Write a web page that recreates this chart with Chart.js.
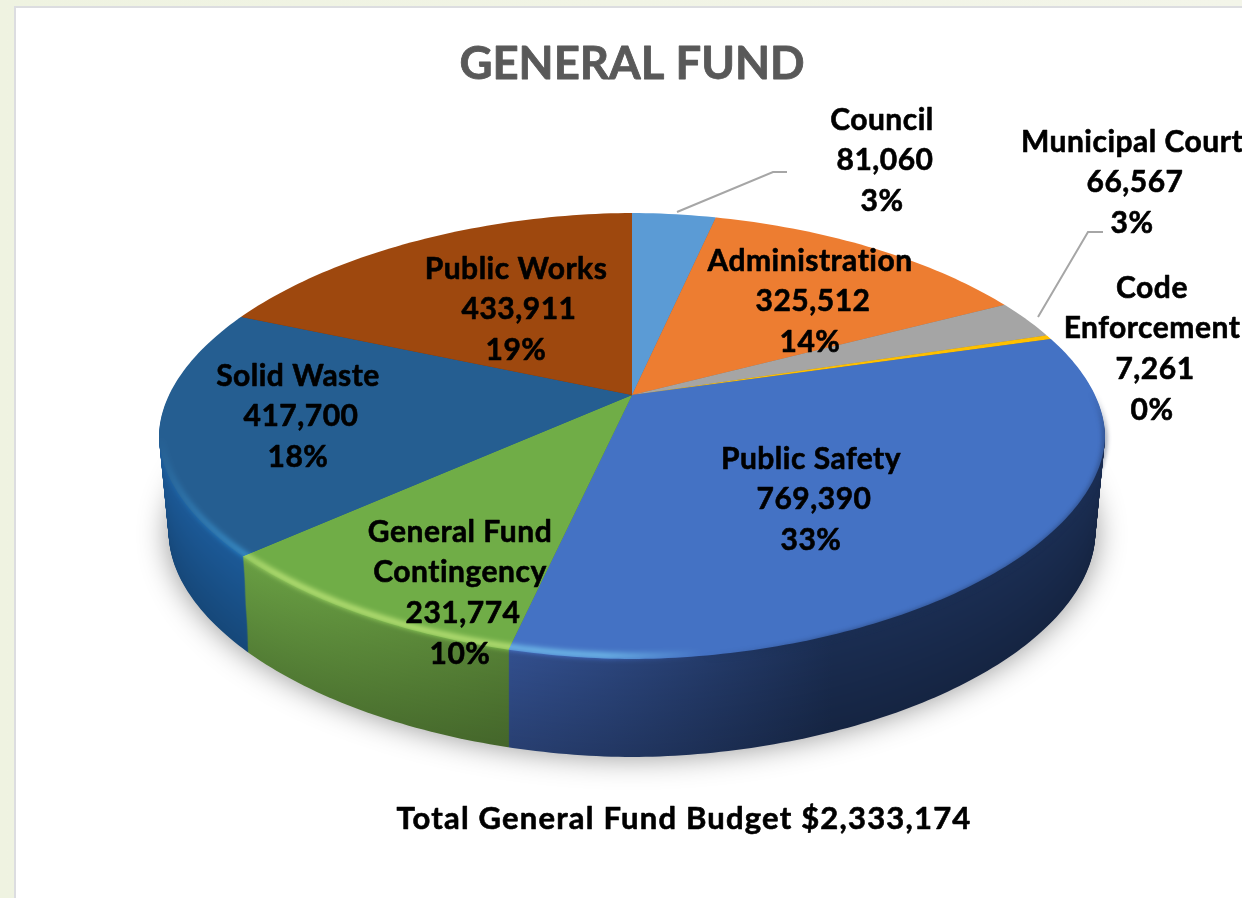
<!DOCTYPE html>
<html><head><meta charset="utf-8">
<style>
html,body{margin:0;padding:0;width:1242px;height:898px;overflow:hidden;background:linear-gradient(90deg,#eff3e1,#f3f5e9)}
#panel{position:absolute;left:14px;top:6px;width:1240px;height:900px;background:#fff;border:2px solid #dcdde0;box-sizing:border-box}
canvas{position:absolute;left:0;top:0}
</style>
<script src="https://cdn.jsdelivr.net/npm/chart.js@4"></script>
</head><body><div id="panel"></div><canvas id="c" width="1242" height="898"></canvas>
<script>
const categories = ['Council','Administration','Municipal Court','Code Enforcement','Public Safety','General Fund Contingency','Solid Waste','Public Works'];
const budget = [81060,325512,66567,7261,769390,231774,417700,433911];
const percents = ['3%','14%','3%','0%','33%','10%','18%','19%'];
const topColors = ['#5B9BD5','#ED7D31','#A5A5A5','#FFC000','#4472C4','#70AD47','#255E91','#9E480E'];
const wallLeft = ['#3f76a8','#b85f22','#7f7f7f','#c09000','#33508f','#6aa044','#1c5a98','#7a380b'];
const wallRight = ['#3f76a8','#b85f22','#7f7f7f','#c09000','#1b2e53','#557f35','#1b5a90','#7a380b'];
const labelLines = [['Council'],['Administration'],['Municipal Court'],['Code','Enforcement'],['Public Safety'],['General Fund','Contingency'],['Solid Waste'],['Public Works']];
const labelX = [882,810,1132,1152,811,460,298,516];
const labelY = [119,260,141,287,458,531,375,268];
const leaders = [[[677,212],[773,172],[787,172]],[[1038,317],[1088,232],[1103,232]]];
const titleText = 'GENERAL FUND';
const footerText = 'Total General Fund Budget $2,333,174';

const APEX = {x:632,y:395}, ELL = {x:632,y:436,rx:473,ry:223,n:1.9}, SQUASH = 0.47, DEPTH = 98, TAPER = 0.1;
const FONT = 'Lato, "Open Sans", sans-serif';

function ellipsePath(ctx,dy,inset){
  const rx=ELL.rx-dy*TAPER-(inset||0), ry=ELL.ry-(inset||0), e=2/ELL.n;
  ctx.beginPath();
  for(let d=0;d<360;d+=1){
    const t=d*Math.PI/180, c=Math.cos(t), s=Math.sin(t);
    const x=ELL.x+rx*Math.sign(c)*Math.pow(Math.abs(c),e), y=ELL.y+dy+ry*Math.sign(s)*Math.pow(Math.abs(s),e);
    d?ctx.lineTo(x,y):ctx.moveTo(x,y);
  }
  ctx.closePath();
}
function shade(hex,f){const n=parseInt(hex.slice(1),16);return `rgb(${(n>>16&255)*f|0},${(n>>8&255)*f|0},${(n&255)*f|0})`;}
function fmt(v){return v.toLocaleString('en-US');}

const pie3d = {
  id:'pie3d',
  beforeDatasetsDraw(chart){
    const ctx = chart.ctx, arcs = chart.getDatasetMeta(0).data;
    ctx.save();
    ctx.shadowColor='rgba(0,0,0,0.42)';ctx.shadowBlur=30;ctx.shadowOffsetY=6;ctx.fillStyle='#ddd';
    ellipsePath(ctx,DEPTH-6);ctx.fill();
    ctx.restore();
    for(let dy=DEPTH;dy>=1;dy--){
      ctx.save();
      ellipsePath(ctx,dy);ctx.clip();
      ctx.translate(APEX.x,APEX.y+dy);ctx.scale(1,SQUASH);
      const f = 1-0.2*dy/DEPTH;
      arcs.forEach((a,i)=>{
        const p=a.getProps(['startAngle','endAngle','outerRadius'],true);
        let g;
        if(i===4){g=ctx.createLinearGradient(-122,0,200,0);}
        else if(i===5||i===6){g=ctx.createLinearGradient(-392,0,-122,0);}
        if(g){g.addColorStop(0,shade(wallLeft[i],f));g.addColorStop(1,shade(wallRight[i],f));ctx.fillStyle=g;}
        else ctx.fillStyle=shade(wallLeft[i],f);
        ctx.beginPath();ctx.moveTo(0,0);ctx.arc(0,0,p.outerRadius,p.startAngle,p.endAngle);ctx.closePath();ctx.fill();
      });
      ctx.restore();
    }
    ctx.save();
    ellipsePath(ctx,0);ctx.clip();
    ctx.save();
    ctx.translate(APEX.x,APEX.y);ctx.scale(1,SQUASH);
    arcs.forEach(a=>{ctx.save();ctx.translate(-a.x,-a.y);a.draw(ctx);ctx.restore();});
    ctx.restore();
    ctx.restore();
    // rim: saturated highlight at the front-left, soft dark edge at the front-right
    ctx.save();
    ctx.filter='blur(2.5px)';
    ctx.globalCompositeOperation='overlay';
    let g=ctx.createConicGradient(0,ELL.x,ELL.y);
    g.addColorStop(0,'rgba(255,255,255,0)');g.addColorStop(0.2,'rgba(255,255,255,0)');
    g.addColorStop(0.27,'rgba(255,255,255,0.62)');g.addColorStop(0.44,'rgba(255,255,255,0.62)');
    g.addColorStop(0.5,'rgba(255,255,255,0)');g.addColorStop(1,'rgba(255,255,255,0)');
    ctx.strokeStyle=g;ctx.lineWidth=6;
    ellipsePath(ctx,0,3);ctx.stroke();
    ctx.globalCompositeOperation='source-over';
    g=ctx.createConicGradient(0,ELL.x,ELL.y);
    g.addColorStop(0,'rgba(27,46,83,0.75)');g.addColorStop(0.12,'rgba(27,46,83,0.85)');
    g.addColorStop(0.2,'rgba(27,46,83,0)');g.addColorStop(0.985,'rgba(27,46,83,0)');g.addColorStop(1,'rgba(27,46,83,0.75)');
    ctx.strokeStyle=g;ctx.lineWidth=3;
    ellipsePath(ctx,2);ctx.stroke();
    ctx.restore();
    return false;
  },
  afterDraw(chart){
    const ctx = chart.ctx;
    ctx.save();
    ctx.strokeStyle='#a6a6a6';ctx.lineWidth=2;
    leaders.forEach(l=>{ctx.beginPath();l.forEach((pt,i)=>i?ctx.lineTo(pt[0],pt[1]):ctx.moveTo(pt[0],pt[1]));ctx.stroke();});
    ctx.textAlign='center';ctx.textBaseline='middle';ctx.lineJoin='round';
    const put=(t,x,y,w)=>{ctx.strokeStyle=ctx.fillStyle;ctx.lineWidth=w;ctx.strokeText(t,x,y);ctx.fillText(t,x,y);};
    ctx.fillStyle='#595959';ctx.font='700 45.5px '+FONT;
    put(titleText,632,64,0.8);
    ctx.fillStyle='#000';ctx.font='700 30px '+FONT;ctx.letterSpacing='0.5px';
    categories.forEach((c,i)=>{
      const names=labelLines[i].length;
      const lines=[...labelLines[i],fmt(budget[i]),percents[i]];
      lines.forEach((t,j)=>put(t,labelX[i]+(j===names?3:0),labelY[i]+1+j*40.7,0.6));
    });
    ctx.font='700 31px '+FONT;ctx.letterSpacing='1.2px';
    put(footerText,684,819,0.6);
    ctx.restore();
  }
};

new Chart(document.getElementById('c'),{
  type:'pie',
  data:{labels:categories,datasets:[{data:budget,backgroundColor:topColors,borderWidth:0,radius:620}]},
  options:{responsive:false,animation:false,events:[],plugins:{legend:{display:false},title:{display:false},tooltip:{enabled:false}}},
  plugins:[pie3d]
});
</script></body></html>
